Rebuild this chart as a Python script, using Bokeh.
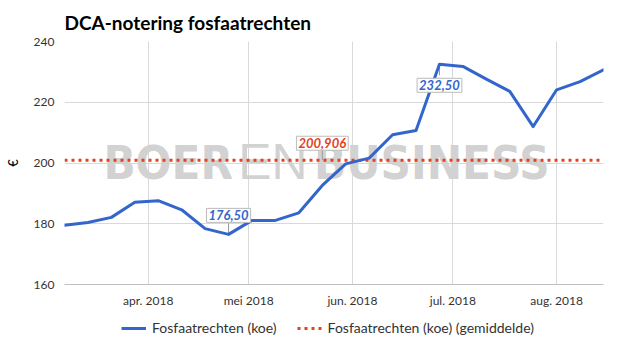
import pandas as pd
from bokeh.plotting import figure
from bokeh.layouts import column
from bokeh.models import (Range1d, FixedTicker, Legend, LegendItem, Label,
                          CustomJSTickFormatter)
from bokeh.embed import file_html
from bokeh.resources import INLINE

# ---------------- data ----------------
dates = ["2018-03-07", "2018-03-14", "2018-03-21", "2018-03-28", "2018-04-04",
         "2018-04-11", "2018-04-18", "2018-04-25", "2018-05-02", "2018-05-09",
         "2018-05-16", "2018-05-23", "2018-05-30", "2018-06-06", "2018-06-13",
         "2018-06-20", "2018-06-27", "2018-07-04", "2018-07-11", "2018-07-18",
         "2018-07-25", "2018-08-01", "2018-08-08", "2018-08-15"]
prices = [179.5, 180.4, 182.1, 187.1, 187.6, 184.6, 178.4, 176.5, 181.1, 181.1,
          183.6, 192.6, 199.7, 201.6, 209.3, 210.7, 232.5, 231.8, 227.6, 223.6,
          212.0, 224.1, 226.8, 230.7]
average = 200.906
average_label_date = "2018-05-23"
month_ticks = ["2018-04-01", "2018-05-01", "2018-06-01", "2018-07-01", "2018-08-01"]
month_labels = ["apr. 2018", "mei 2018", "jun. 2018", "jul. 2018", "aug. 2018"]
y_ticks = [160, 180, 200, 220, 240]
series_name = "Fosfaatrechten (koe)"
avg_name = "Fosfaatrechten (koe) (gemiddelde)"
title = "DCA-notering fosfaatrechten"
y_title = "€"
watermark = ["BOER", "EN", "BUSINESS"]


def ms(s):
    return float(pd.Timestamp(s).value // 10**6)


def nl(v, d):
    return f"{v:.{d}f}".replace(".", ",")


x_ms = [ms(d) for d in dates]
tick_ms = [ms(t) for t in month_ticks]

# ---------------- style ----------------
FONT = "Lato"
BLUE = "#3366cc"
RED = "#e4421c"
GRID = "#d9d9d9"
W, H_MAIN, H_LEG = 625, 310, 45
BT, BB, BL, BR = 41, 26, 64, 22
Y0, Y1 = 160, 240
px_per_unit = (H_MAIN - BT - BB) / (Y1 - Y0)
WM_BOLD = "'Liberation Sans Narrow', 'DejaVu Sans Condensed', 'Liberation Sans', sans-serif"
WM_LIGHT = "'Liberation Sans', 'DejaVu Sans', sans-serif"

p = figure(width=W, height=H_MAIN, x_axis_type="datetime",
           x_range=Range1d(x_ms[0], x_ms[-1]), y_range=Range1d(Y0, Y1),
           output_backend="svg", toolbar_location=None,
           min_border_left=BL, min_border_right=BR,
           min_border_top=BT, min_border_bottom=BB)
p.outline_line_color = None
p.background_fill_color = "white"

p.title.text = title
p.title.text_font = FONT
p.title.text_font_size = "19px"
p.title.text_font_style = "bold"
p.title.text_color = "#000000"
p.title.align = "left"
p.title.standoff = 15

# axes
p.xaxis.ticker = FixedTicker(ticks=tick_ms)
p.xaxis.formatter = CustomJSTickFormatter(
    args=dict(tick_list=tick_ms, label_list=month_labels),
    code="const i = tick_list.indexOf(tick); return i >= 0 ? label_list[i] : '';")
p.xaxis.axis_line_color = "#c0c0c0"
p.xaxis.axis_line_width = 1
p.xaxis.major_tick_line_color = None
p.xaxis.minor_tick_line_color = None
p.xaxis.major_tick_out = 0
p.xaxis.major_tick_in = 0
p.xaxis.minor_tick_out = 0
p.xaxis.major_label_standoff = 8
p.xaxis.major_label_text_font = FONT
p.xaxis.major_label_text_font_size = "12px"
p.xaxis.major_label_text_color = "#333333"

p.yaxis.ticker = FixedTicker(ticks=y_ticks)
p.yaxis.axis_line_color = None
p.yaxis.major_tick_line_color = None
p.yaxis.minor_tick_line_color = None
p.yaxis.major_tick_out = 0
p.yaxis.major_tick_in = 0
p.yaxis.minor_tick_out = 0
p.yaxis.major_label_standoff = 10
p.yaxis.major_label_text_font = FONT
p.yaxis.major_label_text_font_size = "12px"
p.yaxis.major_label_text_color = "#333333"
p.yaxis.axis_label = y_title
p.yaxis.axis_label_text_font = FONT
p.yaxis.axis_label_text_font_size = "13px"
p.yaxis.axis_label_text_font_style = "normal"
p.yaxis.axis_label_text_color = "#000000"
p.yaxis.axis_label_standoff = 10

p.xgrid.grid_line_color = GRID
p.ygrid.grid_line_color = GRID

# watermark
x_mid = (x_ms[0] + x_ms[-1]) / 2
y_mid = (Y0 + Y1) / 2
wm_common = dict(x=x_mid, y=y_mid, y_offset=1, text_color="#d2d2d2",
                 text_baseline="alphabetic", level="underlay")
p.add_layout(Label(text=watermark[0], x_offset=-101, text_align="right",
                   text_font=WM_BOLD, text_font_style="bold",
                   text_font_size="47px", **wm_common))
p.add_layout(Label(text=watermark[1], x_offset=-61, text_align="center",
                   text_font=WM_LIGHT, text_font_style="normal",
                   text_font_size="50px", **wm_common))
p.add_layout(Label(text=watermark[2], x_offset=-20, text_align="left",
                   text_font=WM_BOLD, text_font_style="bold",
                   text_font_size="47px", **wm_common))

# annotation connectors
i_min = prices.index(min(prices))
i_max = prices.index(max(prices))
gap = 11 / px_per_unit
p.segment(x0=[x_ms[i_min], ms(average_label_date), x_ms[i_max]],
          y0=[prices[i_min], average, prices[i_max]],
          x1=[x_ms[i_min], ms(average_label_date), x_ms[i_max]],
          y1=[prices[i_min] + gap, average + gap, prices[i_max] - gap],
          line_color="#999999", line_width=1)

# lines
r_avg = p.line([x_ms[0], x_ms[-1]], [average, average], line_color=RED,
               line_width=3, line_dash="3 4")
r_line = p.line(x_ms, prices, line_color=BLUE, line_width=3,
                line_join="round", line_cap="round")

# data labels
lab_common = dict(text_font=FONT, text_font_size="13px",
                  text_font_style="bold italic",
                  background_fill_color="white", border_line_color="#bbbbbb",
                  border_line_width=1, padding=2, text_align="center")
p.add_layout(Label(x=x_ms[i_min], y=prices[i_min], text=nl(prices[i_min], 2),
                   text_color=BLUE, text_baseline="bottom", y_offset=12,
                   **lab_common))
p.add_layout(Label(x=ms(average_label_date), y=average, text=nl(average, 3),
                   text_color=RED, text_baseline="bottom", y_offset=10,
                   **lab_common))
p.add_layout(Label(x=x_ms[i_max], y=prices[i_max], text=nl(prices[i_max], 2),
                   text_color=BLUE, text_baseline="top", y_offset=-14,
                   **lab_common))

# ---------------- legend strip ----------------
lf = figure(width=W, height=H_LEG, x_range=Range1d(0, 1), y_range=Range1d(0, 1),
            output_backend="svg", toolbar_location=None, min_border=0,
            x_axis_location=None, y_axis_location=None)
lf.grid.visible = False
lf.outline_line_color = None
# swatch renderers: their points lie outside the strip's visible range
lg_line = lf.line(x=[5, 6], y=[5, 6], line_color=BLUE, line_width=3)
lg_avg = lf.line(x=[5, 6], y=[5, 6], line_color=RED, line_width=3, line_dash="3 4")
legend = Legend(items=[LegendItem(label=series_name, renderers=[lg_line]),
                       LegendItem(label=avg_name, renderers=[lg_avg])],
                orientation="horizontal", location=(57, 19),
                glyph_width=25, glyph_height=16, label_standoff=6, spacing=20,
                padding=4, margin=0, border_line_color=None,
                background_fill_alpha=0, label_text_font=FONT,
                label_text_font_size="14px", label_text_color="#333333")
lf.add_layout(legend)

layout = column(p, lf, spacing=0)
open("out.html", "w").write(file_html(layout, INLINE))
